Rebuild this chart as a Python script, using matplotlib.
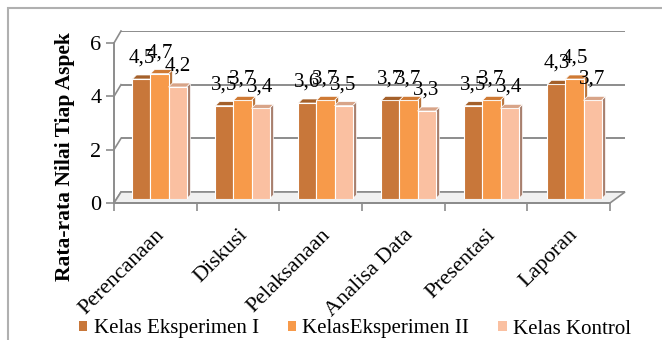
import matplotlib
matplotlib.use("Agg")
import matplotlib.pyplot as plt
from matplotlib.patches import Polygon, Rectangle, Patch
from matplotlib.lines import Line2D
import numpy as np

plt.rcParams['font.family'] = ['Liberation Serif', 'DejaVu Serif']

categories = ["Perencanaan", "Diskusi", "Pelaksanaan", "Analisa Data", "Presentasi", "Laporan"]
series_names = ["Kelas Eksperimen I", "KelasEksperimen II", "Kelas Kontrol"]
eksperimen_1 = [4.5, 3.5, 3.6, 3.7, 3.5, 4.3]
eksperimen_2 = [4.7, 3.7, 3.7, 3.7, 3.7, 4.5]
kontrol = [4.2, 3.4, 3.5, 3.3, 3.4, 3.7]
y_ticks = [0, 2, 4, 6]
y_label = "Rata-rata Nilai Tiap Aspek"

series = [eksperimen_1, eksperimen_2, kontrol]
front_colors = ["#C8773A", "#F79A4A", "#FAC0A1"]
top_colors = ["#A4602A", "#CF7A34", "#D8A488"]
side_colors = ["#9A5A2A", "#B8753E", "#A8806E"]

W, H = 662, 340
DPI = 100
fig = plt.figure(figsize=(W / DPI, H / DPI), dpi=DPI)


def box(left, right, y0, y6):
    return [left / W, (H - y0) / H, (right - left) / W, (y0 - y6) / H]


grid_gray = "#8C8C8C"
n = len(categories)
xlim = (-0.5, n - 0.5)

# back wall with gridlines
back = fig.add_axes(box(121, 625, 192, 31))
back.set_xlim(*xlim)
back.set_ylim(0, 6)
back.axis("off")
for v in y_ticks:
    back.axhline(v, color=grid_gray, lw=1.4, zorder=1)
back.set_zorder(0)

# bars sit at the middle depth of the box
mid = fig.add_axes(box(118, 616, 199, 39))
mid.set_xlim(*xlim)
mid.set_ylim(0, 6)
mid.axis("off")
mid.patch.set_alpha(0)
mid.set_zorder(2)

# front axes carry the ticks and labels
front = fig.add_axes(box(114, 610, 203, 43))
front.set_xlim(*xlim)
front.set_ylim(0, 6)
front.patch.set_alpha(0)
front.set_zorder(3)
for s in ["top", "right"]:
    front.spines[s].set_visible(False)
for s in ["left", "bottom"]:
    front.spines[s].set_color(grid_gray)
    front.spines[s].set_linewidth(1.4)
front.set_yticks(y_ticks)
front.set_yticklabels([str(v) for v in y_ticks], fontsize=16)
front.tick_params(axis="y", length=6, width=1.2, color=grid_gray, pad=3)
front.set_xticks(np.arange(-0.5, n, 1.0))
front.set_xticklabels([])
front.tick_params(axis="x", which="major", length=6, width=1.2, color=grid_gray, direction="out")
front.set_xticks(np.arange(n), minor=True)
front.set_xticklabels(categories, minor=True, fontsize=16, rotation=45,
                      ha="right", va="top", rotation_mode="anchor")
front.tick_params(axis="x", which="minor", length=0, pad=16)
fig.canvas.draw()
for lbl in front.get_xticklabels(minor=True):
    lbl.set_x(lbl.get_position()[0] + 0.12)
fig.text(65 / W, 1 - 157 / H, y_label, rotation=90, ha="center", va="center",
         fontsize=15.5, fontweight="bold")

# floor and side wall connecting front and back planes
def disp(ax, x, y):
    return ax.transData.transform((x, y))

floor_pts = [disp(front, xlim[0], 0), disp(front, xlim[1], 0),
             disp(back, xlim[1], 0), disp(back, xlim[0], 0)]
fig.patches.append(Polygon(floor_pts, closed=True, transform=None,
                           facecolor="#F0F0F0", edgecolor=grid_gray, lw=1.2, zorder=1))
for v in y_ticks:
    a = disp(front, xlim[0], v)
    b = disp(back, xlim[0], v)
    fig.lines.append(Line2D([a[0], b[0]], [a[1], b[1]], transform=None,
                            color=grid_gray, lw=1.2, zorder=1))

# bars with top and side faces
bar_w = 0.217
depth = 4.0
offsets = [-bar_w, 0.0, bar_w]
x = np.arange(n)
for si, (vals, off) in enumerate(zip(series, offsets)):
    xs = x + off
    mid.bar(xs, vals, width=bar_w, color=front_colors[si], edgecolor="white",
            linewidth=0.8, zorder=3 + si)
    for xi, h in zip(xs, vals):
        p0 = disp(mid, xi - bar_w / 2, h)
        p1 = disp(mid, xi + bar_w / 2, h)
        pb = disp(mid, xi + bar_w / 2, 0)
        top = [p0, p1, p1 + depth, p0 + depth]
        side = [p1, pb, pb + depth, p1 + depth]
        mid.add_patch(Polygon(side, closed=True, transform=None, clip_on=False,
                              facecolor=side_colors[si], edgecolor="white",
                              lw=0.5, zorder=2.5 + si))
        mid.add_patch(Polygon(top, closed=True, transform=None, clip_on=False,
                              facecolor=top_colors[si], edgecolor="white",
                              lw=0.5, zorder=3 + si))
        mid.annotate(f"{h:.1f}".replace(".", ","), (xi, h), xytext=(0, 21),
                     textcoords="offset pixels", ha="center", va="center",
                     fontsize=15, zorder=10, annotation_clip=False)

# legend
handles = [Patch(facecolor=c, edgecolor="none") for c in front_colors]
fig.legend(handles, series_names, loc="center", bbox_to_anchor=(355 / W, 11 / H),
           ncol=3, frameon=False, fontsize=15, handlelength=0.4, handleheight=0.4,
           handletextpad=0.3, columnspacing=1.4, borderpad=0, borderaxespad=0)

# chart border
fig.patches.append(Rectangle((8 / W, -0.1), 1.2, (H - 8) / H + 0.1, transform=fig.transFigure,
                             fill=False, edgecolor="#B0B0B0", lw=1.5, zorder=0))

fig.savefig("out.png", dpi=DPI)
